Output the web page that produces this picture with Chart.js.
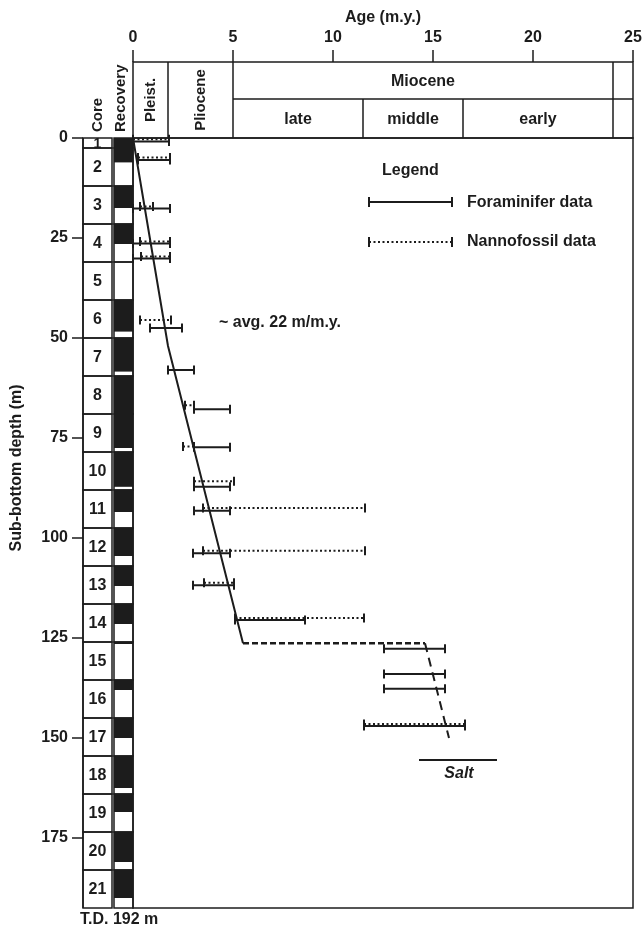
<!DOCTYPE html>
<html>
<head>
<meta charset="utf-8">
<script src="https://cdn.jsdelivr.net/npm/chart.js@4.4.1/dist/chart.umd.min.js"></script>
<style>
  html, body { margin: 0; background: #fff; }
  #wrap { width: 643px; height: 927px; }
</style>
</head>
<body>
<div id="wrap"><canvas id="chart"></canvas></div>
<script>
// tick labels
const ageTicks = [0, 5, 10, 15, 20, 25];
const depthTicks = [0, 25, 50, 75, 100, 125, 150, 175];

// cores (m below sea floor) and recovered part of each
const coreNames = ["1", "2", "3", "4", "5", "6", "7", "8", "9", "10", "11", "12", "13", "14", "15", "16", "17", "18", "19", "20", "21"];
const coreTop = [0, 2.5, 12, 21.5, 31, 40.5, 50, 59.5, 69, 78.5, 88, 97.5, 107, 116.5, 126, 135.5, 145, 154.5, 164, 173.5, 183];
const coreBottom = [2.5, 12, 21.5, 31, 40.5, 50, 59.5, 69, 78.5, 88, 97.5, 107, 116.5, 126, 135.5, 145, 154.5, 164, 173.5, 183, 192.5];
const recoveredTo = [2.5, 6.1, 17.5, 26.5, 31, 48.4, 58.4, 69, 77.5, 87.2, 93.5, 104.5, 112, 121.5, 126.5, 138, 150, 162.5, 168.5, 181, 190];

// foraminifer age ranges (solid)
const foramDepth = [0.9, 5.5, 17.6, 26.4, 30.1, 47.5, 58, 67.8, 77.3, 87.2, 93.2, 103.8, 111.8, 120.5, 127.7, 134, 137.7, 147];
const foramMin = [0, 0.25, 0, 0, 0, 0.85, 1.75, 3.05, 3.05, 3.05, 3.05, 3.0, 3.0, 5.1, 12.55, 12.55, 12.55, 11.55];
const foramMax = [1.8, 1.85, 1.85, 1.85, 1.85, 2.45, 3.05, 4.85, 4.85, 4.85, 4.85, 4.85, 5.05, 8.6, 15.6, 15.6, 15.6, 16.6];

// nannofossil age ranges (dotted)
const nannoDepth = [0.3, 4.9, 17.1, 25.9, 29.6, 45.5, 66.8, 77.1, 85.8, 92.5, 103.2, 111.2, 120, 146.5];
const nannoMin = [0, 0.25, 0.35, 0.35, 0.4, 0.35, 2.6, 2.5, 3.05, 3.5, 3.5, 3.55, 5.1, 11.55];
const nannoMax = [1.8, 1.85, 1.0, 1.85, 1.85, 1.9, 3.05, 3.05, 5.05, 11.6, 11.6, 5.05, 11.55, 16.6];

// sedimentation curve, hiatus, lower curve, salt
const trendAge = [0, 1.75, 5.5];
const trendDepth = [0, 52, 126.3];
const hiatusAge = [5.5, 14.6];
const hiatusDepth = [126.3, 126.3];
const lowerAge = [14.6, 15.8];
const lowerDepth = [126.3, 150];
const saltAge = [14.3, 18.2];
const saltDepth = [155.5, 155.5];

// epoch boundaries (m.y.)
const pleistBase = 1.75;
const plioBase = 5;
const lateBase = 11.5;
const middleBase = 16.5;
const mioBase = 24;

const ink = "#1c1c1c";
const font = "'Liberation Sans', Arial, sans-serif";
const txt = "bold 16px " + font;
const small = "bold 15px " + font;
Chart.defaults.font.family = font;
Chart.defaults.color = ink;

function pts(xs, ys) {
  return xs.map((x, i) => ({ x: x, y: ys[i] }));
}

function rangeSet(a, b, d, dash) {
  return {
    data: [{ x: a, y: d }, { x: b, y: d }],
    showLine: true,
    borderColor: ink,
    borderWidth: 2,
    borderDash: dash,
    pointStyle: "line",
    rotation: 90,
    pointRadius: 4.5,
    pointHoverRadius: 4.5,
    pointBorderWidth: 2,
    pointBorderColor: ink,
    pointBackgroundColor: ink,
    clip: false,
  };
}

function lineSet(xs, ys, dash, width) {
  return {
    data: pts(xs, ys),
    showLine: true,
    borderColor: ink,
    borderWidth: width,
    borderDash: dash,
    pointRadius: 0,
    pointHoverRadius: 0,
    clip: false,
  };
}

const datasets = [];
foramDepth.forEach((d, i) => datasets.push(rangeSet(foramMin[i], foramMax[i], d, [])));
nannoDepth.forEach((d, i) => datasets.push(rangeSet(nannoMin[i], nannoMax[i], d, [2, 2.5])));
datasets.push(lineSet(trendAge, trendDepth, [], 2));
datasets.push(lineSet(hiatusAge, hiatusDepth, [6, 3], 2.5));
datasets.push(lineSet(lowerAge, lowerDepth, [9, 6], 2));
datasets.push(lineSet(saltAge, saltDepth, [], 2));

function vText(ctx, s, x, y, align) {
  ctx.save();
  ctx.translate(x, y);
  ctx.rotate(-Math.PI / 2);
  ctx.textAlign = align;
  ctx.textBaseline = "middle";
  ctx.fillText(s, 0, 0);
  ctx.restore();
}

const decor = {
  id: "decor",
  afterDraw(chart) {
    const ctx = chart.ctx;
    const a = chart.chartArea;
    const X = (v) => chart.scales.x.getPixelForValue(v);
    const Y = (v) => chart.scales.y.getPixelForValue(v);
    const hTop = 62, hMid = 99;
    ctx.save();
    ctx.strokeStyle = ink;
    ctx.fillStyle = ink;
    ctx.lineWidth = 1.5;

    // frame
    ctx.strokeRect(a.left, a.top, a.right - a.left, a.bottom - a.top);

    // header box
    ctx.strokeRect(X(0), hTop, X(25) - X(0), a.top - hTop);
    ctx.beginPath();
    ctx.moveTo(X(plioBase), hMid); ctx.lineTo(X(25), hMid);
    [pleistBase, plioBase, mioBase].forEach((v) => { ctx.moveTo(X(v), hTop); ctx.lineTo(X(v), a.top); });
    [lateBase, middleBase].forEach((v) => { ctx.moveTo(X(v), hMid); ctx.lineTo(X(v), a.top); });
    ageTicks.forEach((v) => { ctx.moveTo(X(v), hTop - 12); ctx.lineTo(X(v), hTop); });
    ctx.stroke();

    ctx.textAlign = "center";
    ctx.textBaseline = "middle";
    ctx.font = small;
    vText(ctx, "Pleist.", (X(0) + X(pleistBase)) / 2, (hTop + a.top) / 2, "center");
    vText(ctx, "Pliocene", (X(pleistBase) + X(plioBase)) / 2, (hTop + a.top) / 2, "center");
    vText(ctx, "Core", 98, 132, "left");
    vText(ctx, "Recovery", 121, 132, "left");
    ctx.font = txt;
    ctx.fillText("Miocene", (X(plioBase) + X(mioBase)) / 2, (hTop + hMid) / 2 + 1);
    ctx.fillText("late", (X(plioBase) + X(lateBase)) / 2, (hMid + a.top) / 2 + 1);
    ctx.fillText("middle", (X(lateBase) + X(middleBase)) / 2, (hMid + a.top) / 2 + 1);
    ctx.fillText("early", (X(middleBase) + X(mioBase)) / 2, (hMid + a.top) / 2 + 1);

    // core and recovery columns
    const cL = 83, cR = 112, rL = 114, rR = a.left;
    coreTop.forEach((t, i) => {
      const y0 = Y(t), y1 = Y(coreBottom[i]);
      ctx.fillRect(rL, y0, rR - rL, Y(recoveredTo[i]) - y0);
      ctx.strokeRect(cL, y0, cR - cL, y1 - y0);
      ctx.strokeRect(rL, y0, rR - rL, y1 - y0);
      ctx.font = i === 0 ? "bold 14px " + font : txt;
      ctx.fillText(coreNames[i], (cL + cR) / 2, (y0 + y1) / 2 + 1);
    });

    // depth axis line and ticks
    ctx.beginPath();
    ctx.moveTo(cL, a.top); ctx.lineTo(cL, a.bottom);
    depthTicks.forEach((v) => { ctx.moveTo(72, Y(v)); ctx.lineTo(cL, Y(v)); });
    ctx.stroke();
    ctx.font = txt;
    vText(ctx, "Sub-bottom depth (m)", 17, 468, "center");

    ctx.textAlign = "left";
    ctx.fillText("T.D. 192 m", 80, 920);
    ctx.fillText("~ avg. 22 m/m.y.", 219, 323);

    // legend
    ctx.fillText("Legend", 382, 171);
    ctx.fillText("Foraminifer data", 467, 203);
    ctx.fillText("Nannofossil data", 467, 242);
    ctx.lineWidth = 2;
    ctx.beginPath();
    ctx.moveTo(369, 202); ctx.lineTo(452, 202);
    ctx.moveTo(369, 197); ctx.lineTo(369, 207);
    ctx.moveTo(452, 197); ctx.lineTo(452, 207);
    ctx.moveTo(369, 237); ctx.lineTo(369, 247);
    ctx.moveTo(452, 237); ctx.lineTo(452, 247);
    ctx.stroke();
    ctx.setLineDash([2, 2.5]);
    ctx.beginPath();
    ctx.moveTo(369, 242); ctx.lineTo(452, 242);
    ctx.stroke();
    ctx.setLineDash([]);

    ctx.font = "italic bold 16px " + font;
    ctx.textAlign = "center";
    ctx.fillText("Salt", (X(saltAge[0]) + X(saltAge[1])) / 2 + 1, Y(saltDepth[0]) + 14);
    ctx.restore();
  },
};

new Chart(document.getElementById("chart"), {
  type: "scatter",
  data: { datasets: datasets },
  options: {
    responsive: true,
    maintainAspectRatio: false,
    animation: false,
    layout: { padding: { left: 0, top: 0, right: 10, bottom: 19 } },
    plugins: { legend: { display: false }, tooltip: { enabled: false } },
    scales: {
      x: {
        type: "linear",
        position: "top",
        min: 0,
        max: 25,
        afterBuildTicks: (s) => { s.ticks = ageTicks.map((v) => ({ value: v })); },
        afterFit: (s) => { s.height = 138; s.paddingLeft = 0; s.paddingRight = 0; },
        ticks: { padding: 91, font: { size: 16, weight: "bold" }, color: ink },
        grid: { display: false, drawTicks: false },
        border: { display: false },
        title: { display: true, text: "Age (m.y.)", font: { size: 16, weight: "bold" }, color: ink, padding: { top: 8, bottom: 0 } },
      },
      y: {
        type: "linear",
        reverse: true,
        min: 0,
        max: 192.5,
        afterBuildTicks: (s) => { s.ticks = depthTicks.map((v) => ({ value: v })); },
        afterFit: (s) => { s.width = 133; s.paddingTop = 0; s.paddingBottom = 0; },
        ticks: { padding: 65, font: { size: 16, weight: "bold" }, color: ink },
        grid: { display: false, drawTicks: false },
        border: { display: false },
      },
    },
  },
  plugins: [decor],
});
</script>
</body>
</html>
